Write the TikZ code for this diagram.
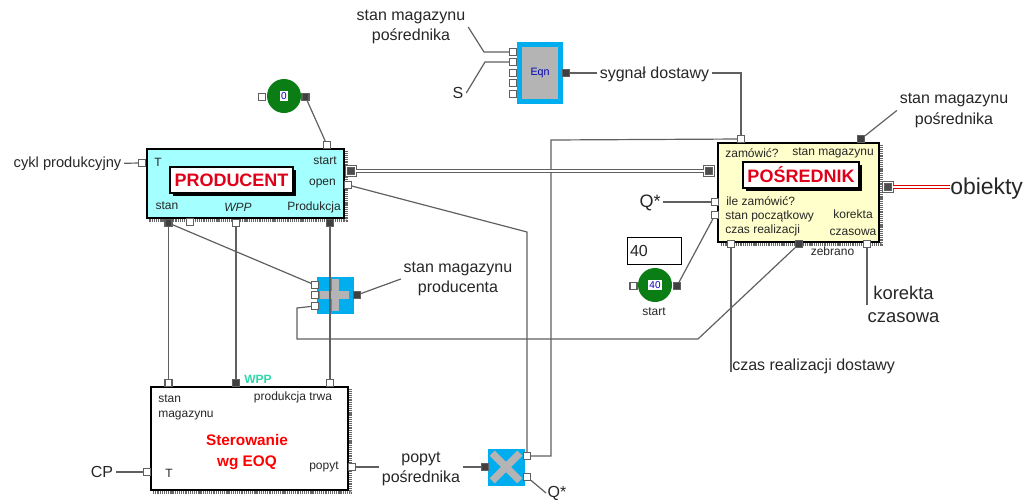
\documentclass[tikz,border=0pt]{standalone}
\usepackage{fontspec}
\setmainfont{Liberation Sans}
\usetikzlibrary{positioning,shadows}

\definecolor{wireGray}{HTML}{606060}
\definecolor{blockBlue}{HTML}{00ADEF}
\definecolor{blockGray}{HTML}{B4B4B4}
\definecolor{prodCyan}{HTML}{A4FFFF}
\definecolor{posYellow}{HTML}{FFFFCC}
\definecolor{constGreen}{HTML}{0A7D14}
\definecolor{titleRed}{HTML}{E0001A}
\definecolor{wppTeal}{HTML}{30D8A8}
\def\px{0.75pt}

\begin{document}
\begin{tikzpicture}[x=0.75pt,y=-0.75pt]

    %
    % Styles for blocks, ports, and wires
    %
    \tikzstyle{signalName} = [inner sep=2pt, align=center, text=black!85, font={\fontsize{12}{15.5}\selectfont}]
    \tikzstyle{portName} = [inner sep=0pt, text=black!85, font={\fontsize{9}{11}\selectfont}]
    \tikzstyle{bbox} = [draw=black, line width=1.2pt, inner sep=0pt]
    \tikzstyle{titleBox} = [draw=black, line width=1.1pt, fill=white, inner sep=0pt, text=titleRed,
                            font={\fontsize{13.5}{16}\selectfont\bfseries},
                            drop shadow={opacity=1, fill=black, shadow xshift=2pt, shadow yshift=-2pt}]
    \tikzstyle{opBlock} = [fill=blockBlue, inner sep=0pt, minimum width=37*\px, minimum height=37*\px]
    \tikzstyle{constBlock} = [circle, fill=constGreen, inner sep=0pt, minimum size=34*\px]
    \tikzstyle{constValue} = [fill=white, inner sep=1pt, text=blue!70!black, font={\fontsize{7.5}{9}\selectfont}]
    \tikzstyle{inPort} = [draw=wireGray, line width=0.8pt, fill=white, inner sep=0pt, minimum size=7*\px]
    \tikzstyle{outPort} = [draw=wireGray, line width=0.8pt, fill=black!75, inner sep=0pt, minimum size=7*\px]
    \tikzstyle{busPort} = [draw=wireGray, line width=0.6pt, double=white, double distance=1.2pt, fill=black!70,
                           inner sep=0pt, minimum size=9*\px]
    \tikzstyle{wire} = [draw=wireGray, line width=0.9pt]
    \tikzstyle{busWire} = [draw=wireGray, line width=0.7pt, double=white, double distance=1.5pt]
    \tikzstyle{redBus} = [draw=red!85!black, line width=0.8pt, double=white, double distance=1.3pt]
    \tikzstyle{blockShade} = [draw=black!60, line width=2.2pt, dash pattern=on 0.8pt off 0.6pt]
    \tikzstyle{crossArm} = [draw=blockGray, line width=5.5pt]

    \useasboundingbox (0,0) rectangle (1026,504);

    %
    % Position blocks
    %
    \node[bbox, name=prodBlock, fill=prodCyan, minimum width=197*\px, minimum height=69*\px] at (245.5,183.5) {};
    \node[bbox, name=posBlock, fill=posYellow, minimum width=161*\px, minimum height=99*\px] at (798.5,192.5) {};
    \node[bbox, name=sterBlock, fill=white, minimum width=197*\px, minimum height=103*\px] at (249.5,438.5) {};
    \draw[blockShade] ([shift={(2,3)}]prodBlock.north east) |- ([shift={(3,2)}]prodBlock.south west);
    \draw[blockShade] ([shift={(2,3)}]posBlock.north east) |- ([shift={(3,2)}]posBlock.south west);
    \draw[blockShade] ([shift={(2,3)}]sterBlock.north east) |- ([shift={(3,2)}]sterBlock.south west);

    \node[titleBox, name=prodTitle, minimum width=123*\px, minimum height=26*\px] at (231.5,180) {PRODUCENT};
    \node[titleBox, name=posTitle, minimum width=116*\px, minimum height=26*\px] at (801,175) {POŚREDNIK};
    \node[name=sterTitle, inner sep=0pt, align=center, text=red, font={\fontsize{11.5}{16}\selectfont\bfseries}] at (247,452) {Sterowanie\\wg EOQ};

    \node[name=eqnBlock, draw=blockBlue, line width=3.6pt, fill=blockGray, inner sep=0pt, minimum width=41*\px, minimum height=57*\px,
          text=blue!70!black, font={\fontsize{8}{10}\selectfont}] at (540,73) {Eqn};

    \node[opBlock, name=plusBlock] at (335.5,295) {};
    \draw[crossArm] ([xshift=3*\px]plusBlock.west) -- ([xshift=-5*\px]plusBlock.east);
    \draw[crossArm] ([yshift=-3*\px]plusBlock.north) -- ([yshift=3*\px]plusBlock.south);

    \node[opBlock, name=multBlock] at (506,467) {};
    \draw[crossArm] ([shift={(5,5)}]multBlock.north west) -- ([shift={(-5,-5)}]multBlock.south east);
    \draw[crossArm] ([shift={(-5,5)}]multBlock.north east) -- ([shift={(5,-5)}]multBlock.south west);

    \node[constBlock, name=zeroConst] at (284,96) {};
    \node[constValue, name=zeroValue] at (284,96) {0};
    \node[constBlock, name=startConst] at (655,285) {};
    \node[constValue, name=startValue] at (655,285) {40};
    \node[name=startBox, draw=black, line width=0.7pt, inner sep=0pt, minimum width=54*\px, minimum height=27*\px,
          text width=48*\px, align=left, text=black!85, font={\fontsize{12}{14}\selectfont}] at (654,250.5) {40};

    %
    % Position ports
    %
    \node[inPort, name=zeroIn] at (262,97) {};
    \node[outPort, name=zeroOut] at (305.5,97) {};
    \node[inPort, name=startIn] at (633.5,286) {};
    \node[outPort, name=startOut] at (677,286) {};

    \node[inPort, name=prodT] at (142,163) {};
    \node[inPort, name=prodStart] at (327,145) {};
    \node[busPort, name=prodBus] at (351,171) {};
    \node[inPort, name=prodOpen] at (348,185) {};
    \node[outPort, name=prodStan] at (168.5,223) {};
    \node[inPort, name=prodSpare] at (190,222) {};
    \node[inPort, name=prodWpp] at (236,223) {};
    \node[outPort, name=prodProd] at (330,223) {};

    \node[inPort, name=eqnInA] at (513,52) {};
    \node[inPort, name=eqnInB] at (513,62) {};
    \node[inPort, name=eqnInC] at (513,73) {};
    \node[inPort, name=eqnInD] at (513,83) {};
    \node[inPort, name=eqnInE] at (513,94) {};
    \node[outPort, name=eqnOut] at (566,73) {};

    \node[inPort, name=posZamow] at (741,139) {};
    \node[outPort, name=posStan] at (861,139) {};
    \node[busPort, name=posBusIn] at (709,171) {};
    \node[busPort, name=posBusOut] at (888,187) {};
    \node[inPort, name=posIle] at (715,202) {};
    \node[inPort, name=posInit] at (715,215) {};
    \node[inPort, name=posCzas] at (731,244) {};
    \node[outPort, name=posZebrano] at (799,244) {};
    \node[inPort, name=posKorekta] at (867,244) {};

    \node[inPort, name=plusInA] at (315,285) {};
    \node[inPort, name=plusInB] at (315,295) {};
    \node[inPort, name=plusInC] at (315,306) {};
    \node[outPort, name=plusOut] at (357,295) {};

    \node[inPort, name=sterStan] at (168.5,383) {};
    \node[outPort, name=sterWpp] at (236,383) {};
    \node[inPort, name=sterProd] at (330,383) {};
    \node[inPort, name=sterT] at (147,472) {};
    \node[inPort, name=sterPopyt] at (352,467) {};

    \node[outPort, name=multIn] at (485,467) {};
    \node[inPort, name=multOutA] at (527,456) {};
    \node[inPort, name=multOutB] at (527,477) {};

    %
    % Texts inside blocks
    %
    \node[portName, name=prodTName] at (158,162) {T};
    \node[portName, name=prodStartName] at (325,161) {start};
    \node[portName, name=prodOpenName] at (322.5,184) {open};
    \node[portName, name=prodStanName] at (167,206) {stan};
    \node[portName, name=prodWppName, font={\fontsize{9}{11}\selectfont\itshape}] at (238,207) {WPP};
    \node[portName, name=prodProdName] at (314,207) {Produkcja};

    \node[portName, name=posZamowName] at (752,153) {zamówić?};
    \node[portName, name=posStanName] at (833,153) {stan magazynu};
    \node[portName, name=posIleName, anchor=west] at (726,201) {ile zamówić?};
    \node[portName, name=posInitName, anchor=west] at (725,216) {stan początkowy};
    \node[portName, name=posCzasName, anchor=west] at (725,230) {czas realizacji};
    \node[portName, name=posKorektaName] at (853,214) {korekta};
    \node[portName, name=posCzasowaName] at (853,232) {czasowa};
    \node[portName, name=posZebranoName] at (832.5,251) {zebrano};

    \node[portName, name=sterStanName, anchor=west] at (158,399) {stan};
    \node[portName, name=sterMagName, anchor=west] at (158,416) {magazynu};
    \node[portName, name=sterProdName] at (293,397) {produkcja trwa};
    \node[portName, name=sterTName] at (169,473) {T};
    \node[portName, name=sterPopytName] at (324,467) {popyt};
    \node[portName, name=sterWppName, text=wppTeal, font={\fontsize{9}{11}\selectfont\bfseries}] at (258,379) {WPP};
    \node[portName, name=startName] at (654,312) {start};

    %
    % Signal names outside blocks
    %
    \node[signalName, name=stanPosLeft] at (411,27) {stan magazynu\\pośrednika};
    \node[signalName, name=sLabel] at (458,93) {S};
    \node[signalName, name=sygnalLabel] at (654.5,74) {sygnał dostawy};
    \node[signalName, name=stanPosRight] at (954,110.5) {stan magazynu\\pośrednika};
    \node[signalName, name=cyklLabel, font={\fontsize{11}{14}\selectfont}] at (67.5,164) {cykl produkcyjny};
    \node[signalName, name=objLabel, anchor=west, inner sep=0pt, font={\fontsize{17.2}{20}\selectfont}] at (950,189) {obiekty};
    \node[signalName, name=qLabel, font={\fontsize{13.5}{16}\selectfont}] at (650,203) {Q*};
    \node[signalName, name=stanProdLabel] at (458,279) {stan magazynu\\producenta};
    \node[signalName, name=korektaLabel, font={\fontsize{13.8}{17}\selectfont}] at (903.5,304.5) {korekta\\czasowa};
    \node[signalName, name=czasLabel, anchor=west, inner sep=0pt] at (732,366) {czas realizacji dostawy};
    \node[signalName, name=popytLabel] at (421,469) {popyt\\pośrednika};
    \node[signalName, name=cpLabel] at (102,472) {CP};
    \node[signalName, name=qLowLabel, anchor=west, inner sep=1pt] at (546,493) {Q*};

    \coordinate (stanPosBend) at (484,52);
    \coordinate (sBend) at (485,62);
    \coordinate (czasEnd) at (731,372);
    \coordinate (loopTop) at (297,308);
    \coordinate (loopLeft) at (297,339);
    \coordinate (loopRight) at (698,339);
    \coordinate (zamowCorner) at (551,140);
    \coordinate (multCorner) at (551,456);
    \coordinate (openBend) at (527,232);

    %
    % Connect blocks via wires
    %
    \draw[wire] (zeroOut) -- (prodStart);
    \draw[wire] (cyklLabel) -- (prodT);
    \draw[wire] (stanPosLeft.east) -- (stanPosBend) -- (eqnInA);
    \draw[wire] (sLabel.east) -- (sBend) -- (eqnInB);
    \draw[wire] (eqnOut) -- (eqnOut -| sygnalLabel.west);
    \draw[wire] (sygnalLabel.east |- eqnOut) -| (posZamow);
    \draw[wire] (posStan) -- (stanPosRight.west);
    \draw[wire] (posIle -| qLabel.east) -- (posIle);
    \draw[wire] (startOut) -- (posInit);
    \draw[wire] (posCzas) -- (czasEnd);
    \draw[wire] (posKorekta) -- (posKorekta |- korektaLabel);
    \draw[wire] (posZebrano) -- (loopRight) -- (loopLeft) -- (loopTop) -- (plusInC);
    \draw[wire] (prodStan) -- (sterStan);
    \draw[wire] (prodWpp) -- (sterWpp);
    \draw[wire] (prodProd) -- (sterProd);
    \draw[wire] (prodStan) -- (plusInA);
    \draw[wire] (plusOut) -- (stanProdLabel.west);
    \draw[wire] (sterT -| cpLabel.east) -- (sterT);
    \draw[wire] (sterPopyt) -- (sterPopyt -| popytLabel.west);
    \draw[wire] (multIn -| popytLabel.east) -- (multIn);
    \draw[wire] (multOutA) -- (multCorner) -- (zamowCorner) -- (posZamow);
    \draw[wire] (prodOpen) -- (openBend) -- (multOutA);
    \draw[wire] (multOutB) -- (qLowLabel.west);
    \draw[busWire] (prodBus.east) -- (posBusIn.west);
    \draw[redBus] (posBusOut.east) -- (posBusOut -| objLabel.west);
\end{tikzpicture}
\end{document}
